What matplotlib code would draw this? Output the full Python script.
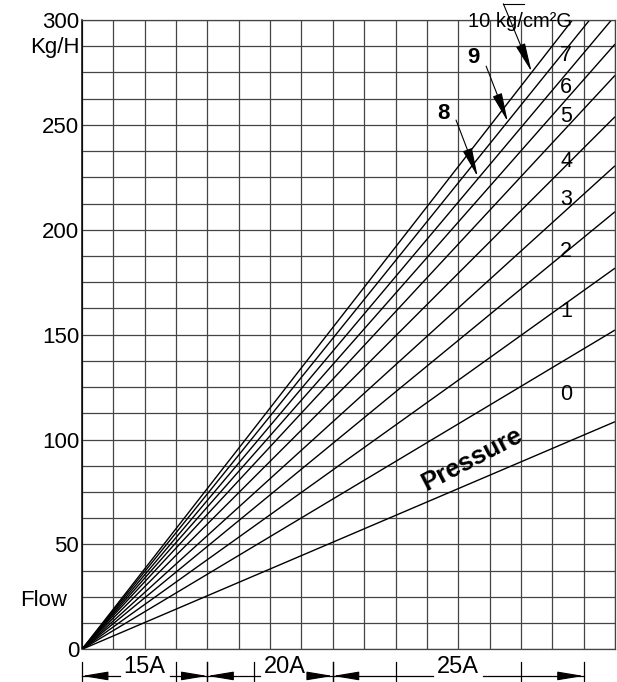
import numpy as np
import matplotlib
matplotlib.use("Agg")
import matplotlib.pyplot as plt

plt.rcParams['font.family'] = ['Liberation Sans', 'DejaVu Sans']

# ---------------- data ----------------
pressures = [0, 1, 2, 3, 4, 5, 6, 7, 8, 9, 10]                 # kg/cm2G
flow_at_right = [108.5, 152.2, 181.7, 208.6, 230.5, 253.9,
                 273.6, 288.5, 302.0, 315.0, 326.0]            # Kg/H at right edge
n_cols = 17
y_ticks = [0, 50, 100, 150, 200, 250, 300]
pipe_sizes = ['15A', '20A', '25A']
pipe_start = [0, 4, 8]
pipe_end = [4, 8, 16]
pipe_inner = [[3], [5.5], [10, 14]]

# ---------------- figure ----------------
W, H = 617, 682
fig = plt.figure(figsize=(W / 100, H / 100), dpi=100)
L, R, T, B = 82, 615, 20, 649.3
ax = fig.add_axes([L / W, (H - B) / H, (R - L) / W, (B - T) / H])
ax.set_xlim(0, n_cols)
ax.set_ylim(0, 300)

grid_c = '#444444'
ax.set_xticks(np.arange(0, n_cols + 1))
ax.set_xticklabels([])
ax.set_yticks(y_ticks)
ax.set_yticks(np.arange(0, 300.1, 12.5), minor=True)
ax.grid(True, which='both', color=grid_c, lw=0.9)
ax.set_axisbelow(True)
ax.tick_params(which='both', length=0, labelsize=16, pad=2)
for s in ['top', 'right', 'bottom']:
    ax.spines[s].set_color(grid_c)
    ax.spines[s].set_linewidth(0.9)
ax.spines['left'].set_color('black')
ax.spines['left'].set_linewidth(1.1)

# pressure lines
for v in flow_at_right:
    ax.plot([0, n_cols], [0, v], color='black', lw=1.0, solid_capstyle='butt')

# line labels
lab_x = 15.44
lab_y = [121.7, 161.2, 189.8, 214.6, 232.7, 254.0, 267.8, 283.3]
for p, yy in zip(pressures[:8], lab_y):
    ax.text(lab_x, yy, str(p), fontsize=15.5, ha='center', va='center')

ax.text(12.31, 296.8, '10 kg/cm\u00b2G', fontsize=14.5, ha='left', va='baseline',
        clip_on=False)
ax.plot([13.44, 14.10], [307.7, 307.7], color='black', lw=0.8, clip_on=False)

arrow_style = '-|>,head_length=1.8,head_width=0.3'
def arrow(x0, y0, x1, y1, ms=10):
    ax.annotate('', xy=(x1, y1), xytext=(x0, y0),
                arrowprops=dict(arrowstyle=arrow_style, mutation_scale=ms,
                                color='black', lw=0.8, shrinkA=0, shrinkB=0),
                annotation_clip=False)

arrow(13.44, 307.7, 14.34, 275.3)
ax.text(12.47, 282.3, '9', fontsize=16, fontweight='bold', ha='center', va='center')
arrow(12.89, 278.0, 13.58, 251.5)
ax.text(11.52, 255.6, '8', fontsize=16, fontweight='bold', ha='center', va='center')
arrow(11.93, 252.3, 12.62, 225.3)

ax.text(12.44, 90.7, 'Pressure', fontsize=18.5, fontweight='bold', ha='center',
        va='center', rotation=27.6, rotation_mode='anchor')

# axis texts
fig.text(80 / W, 1 - 47.5 / H, 'Kg/H', fontsize=16, ha='right', va='center')
fig.text(67 / W, 1 - 600.7 / H, 'Flow', fontsize=16, ha='right', va='center')

# pipe size brackets
yb = -12.7
yt0, yt1 = -6.2, -16.0
for name, x0, x1, inner in zip(pipe_sizes, pipe_start, pipe_end, pipe_inner):
    if name == '20A':
        cx = 6.48
    else:
        cx = (x0 + x1) / 2
    ax.text(cx, -8.3, name, fontsize=17, ha='center', va='center', clip_on=False)
    ax.plot([x0, cx - 0.8], [yb, yb], color='black', lw=0.9, clip_on=False)
    ax.plot([cx + 0.8, x1], [yb, yb], color='black', lw=0.9, clip_on=False)
    for xt in [x0, x1] + inner:
        ax.plot([xt, xt], [yt0, yt1], color='black', lw=0.9, clip_on=False)
    arrow(x0 + 0.6, yb, x0, yb, ms=9)
    arrow(x1 - 0.6, yb, x1, yb, ms=9)

fig.savefig('out.png', dpi=100)
